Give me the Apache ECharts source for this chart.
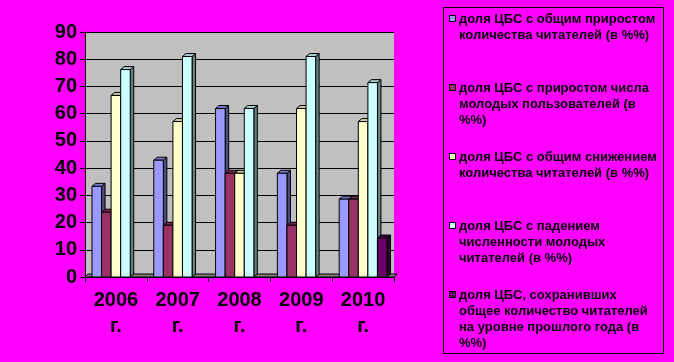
<!DOCTYPE html>
<html>
<head>
<meta charset="utf-8">
<script src="https://cdn.jsdelivr.net/npm/echarts@6/dist/echarts.min.js"></script>
<style>
html,body{margin:0;padding:0;background:#FF00FF;}
#chart{width:674px;height:362px;}
</style>
</head>
<body>
<div id="chart"></div>
<script>
// ---- data ----
const categories = ['2006\nг.', '2007\nг.', '2008\nг.', '2009\nг.', '2010\nг.'];
const seriesNames = [
  'доля ЦБС с общим приростом\nколичества читателей (в %%)',
  'доля ЦБС с приростом числа\nмолодых пользователей (в\n%%)',
  'доля ЦБС с общим снижением\nколичества читателей (в %%)',
  'доля ЦБС с падением\nчисленности молодых\nчитателей (в %%)',
  'доля ЦБС, сохранивших\nобщее количество читателей\nна уровне прошлого года (в\n%%)'
];
const growthTotal   = [33.3, 42.9, 61.9, 38.1, 28.6];
const growthYoung   = [23.8, 19.0, 38.1, 19.0, 28.6];
const declineTotal  = [66.7, 57.1, 38.1, 61.9, 57.1];
const declineYoung  = [76.2, 81.0, 61.9, 81.0, 71.4];
const keptTotal     = [0, 0, 0, 0, 14.3];
const yTicks = [0, 10, 20, 30, 40, 50, 60, 70, 80, 90];

// ---- styles ----
const seriesValues = [growthTotal, growthYoung, declineTotal, declineYoung, keptTotal];
const frontColors = ['#9999FF', '#993366', '#FFFFCC', '#CCFFFF', '#660066'];
const sideColors  = ['#4D4D80', '#4D1A33', '#808066', '#668080', '#330033'];
const topColors   = ['#7A7ACC', '#7A2952', '#CCCCA3', '#A3CCCC', '#520052'];

const chart = echarts.init(document.getElementById('chart'), null, {renderer: 'canvas'});

const SIDE_GAP = 0.113;
const DX = 3.5, DY = 3;
const nSeries = seriesValues.length;

function makeRender(si) {
  return function (params, api) {
    const cat = api.value(0), val = api.value(1);
    if (!val) return null;
    const top = api.coord([cat, val]);
    const base = api.coord([cat, 0]);
    const band = api.size([1, 0])[0];
    const barW = band * (1 - 2 * SIDE_GAP) / nSeries;
    const x0 = top[0] - band / 2 + band * SIDE_GAP + si * barW;
    const x1 = x0 + barW;
    const yT = top[1], yB = base[1];
    const stroke = {stroke: '#000', lineWidth: 1};
    return {
      type: 'group',
      children: [
        {type: 'polygon', shape: {points: [[x1, yB], [x1 + DX, yB - DY], [x1 + DX, yT - DY], [x1, yT]]},
         style: Object.assign({fill: sideColors[si]}, stroke)},
        {type: 'polygon', shape: {points: [[x0, yT], [x0 + DX, yT - DY], [x1 + DX, yT - DY], [x1, yT]]},
         style: Object.assign({fill: topColors[si]}, stroke)},
        {type: 'rect', shape: {x: x0, y: yT, width: barW, height: yB - yT},
         style: Object.assign({fill: frontColors[si]}, stroke)}
      ]
    };
  };
}

const series = seriesValues.map((vals, si) => ({
  type: 'custom',
  name: seriesNames[si],
  renderItem: makeRender(si),
  encode: {x: 0, y: 1},
  z: 3,
  data: vals.map((v, ci) => [ci, v])
}));

// legend built as graphic elements from the series names
const legendLeft = 443, legendTop = 7, legendW = 220, legendH = 346;
const legendChildren = [
  {type: 'rect', shape: {x: legendLeft + 0.5, y: legendTop + 0.5, width: legendW, height: legendH},
   style: {fill: 'none', stroke: '#000', lineWidth: 1}}
];
seriesNames.forEach((name, i) => {
  const cy = 19 + 69 * i;
  legendChildren.push({type: 'rect', shape: {x: 449.5, y: cy - 3.5, width: 6, height: 6},
    style: {fill: frontColors[i], stroke: '#000', lineWidth: 1}});
  legendChildren.push({type: 'text', x: 459, y: cy - 8,
    style: {text: name, fill: '#000', fontSize: 13, fontWeight: 'bold',
      fontFamily: '"Liberation Sans", Arial, sans-serif', lineHeight: 16, verticalAlign: 'top', align: 'left'}});
});

chart.setOption({
  backgroundColor: '#FF00FF',
  animation: false,
  grid: {left: 85, right: 280, top: 32, bottom: 85, show: true, backgroundColor: '#C0C0C0', borderWidth: 0},
  xAxis: {
    type: 'category',
    data: categories,
    axisLine: {show: true, lineStyle: {color: '#000', width: 1}},
    axisTick: {show: true, length: 5, lineStyle: {color: '#000'}},
    axisLabel: {color: '#000', fontSize: 20, fontWeight: 'bold', lineHeight: 26, margin: 10,
      fontFamily: '"Liberation Sans", Arial, sans-serif'},
    splitLine: {show: false}
  },
  yAxis: {
    type: 'value',
    min: yTicks[0], max: yTicks[yTicks.length - 1], interval: yTicks[1] - yTicks[0],
    axisLine: {show: true, lineStyle: {color: '#000', width: 1}},
    axisTick: {show: true, length: 5, lineStyle: {color: '#000'}},
    axisLabel: {color: '#000', fontSize: 20, fontWeight: 'bold', margin: 8,
      fontFamily: '"Liberation Sans", Arial, sans-serif'},
    splitLine: {show: true, lineStyle: {color: '#000', width: 1}}
  },
  graphic: [
    {type: 'polygon', z: 1, shape: {points: [[85, 277], [394, 277], [397, 274], [88, 274]]},
     style: {fill: '#808080', stroke: '#000', lineWidth: 1}},
    {type: 'group', children: legendChildren}
  ],
  series: series
});
</script>
</body>
</html>
